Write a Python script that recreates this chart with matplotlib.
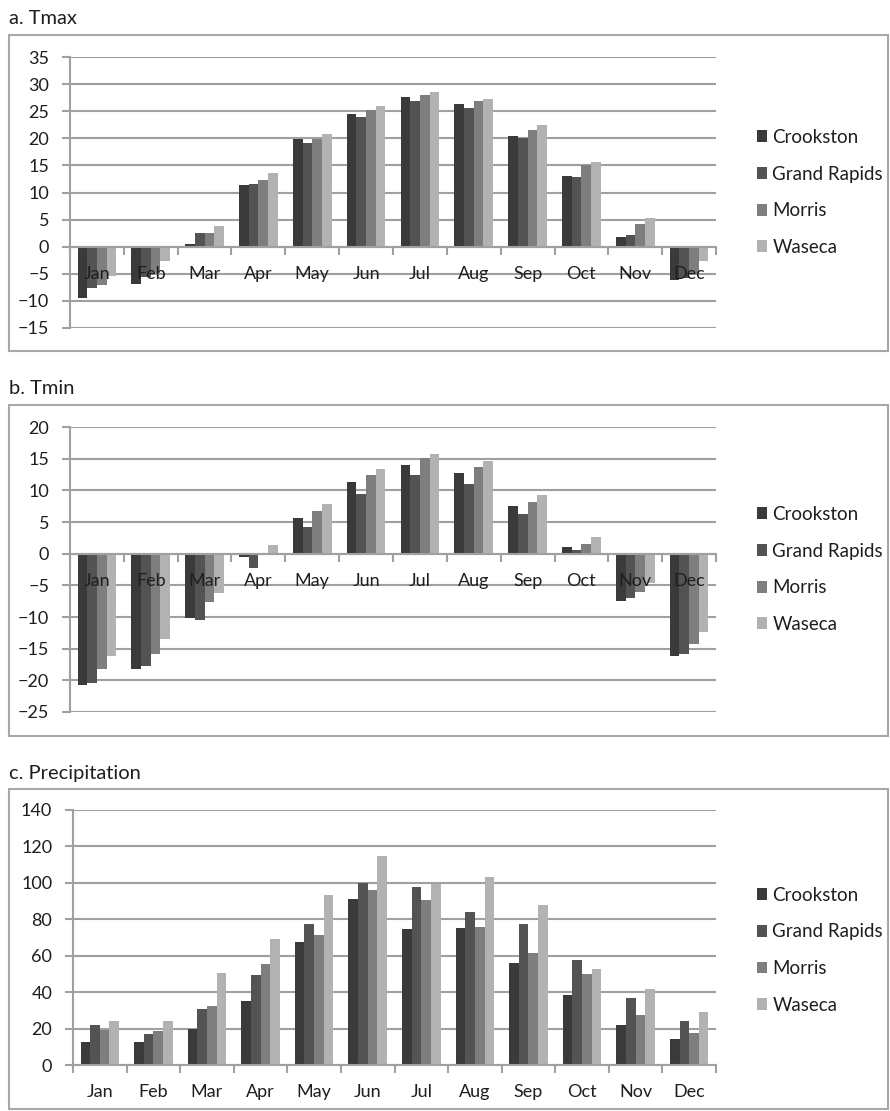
import matplotlib.pyplot as plt
from matplotlib.patches import Rectangle, Patch
import numpy as np

# data
bulan = ['Jan', 'Feb', 'Mar', 'Apr', 'May', 'Jun', 'Jul', 'Aug', 'Sep', 'Oct', 'Nov', 'Dec']
stasiun = ['Crookston', 'Grand Rapids', 'Morris', 'Waseca']
warna = ['#3a3a3a', '#535353', '#7e7e7e', '#b2b2b2']

tmax_crookston = [-9.5, -6.9, 0.5, 11.3, 19.9, 24.4, 27.7, 26.4, 20.5, 13.1, 1.8, -6.1]
tmax_grandrapids = [-7.7, -5.6, 2.6, 11.6, 19.2, 24.0, 26.9, 25.5, 20.0, 12.8, 2.2, -5.8]
tmax_morris = [-7.1, -4.8, 2.6, 12.3, 19.9, 25.2, 27.9, 26.9, 21.5, 15.1, 4.1, -5.0]
tmax_waseca = [-5.4, -2.6, 3.8, 13.6, 20.8, 25.9, 28.5, 27.2, 22.5, 15.7, 5.3, -2.6]

tmin_crookston = [-20.7, -18.2, -10.1, -0.6, 5.7, 11.3, 14.0, 12.8, 7.5, 1.1, -7.4, -16.1]
tmin_grandrapids = [-20.4, -17.8, -10.5, -2.2, 4.2, 9.5, 12.5, 11.0, 6.3, 0.6, -7.0, -15.9]
tmin_morris = [-18.2, -15.9, -7.7, 0.15, 6.8, 12.5, 15.1, 13.7, 8.1, 1.6, -6.0, -14.2]
tmin_waseca = [-16.1, -13.5, -6.2, 1.3, 7.8, 13.4, 15.8, 14.6, 9.3, 2.7, -4.6, -12.4]

prec_crookston = [12.9, 12.9, 19.8, 35.1, 67.6, 91.3, 74.4, 75.0, 56.0, 38.4, 21.9, 14.3]
prec_grandrapids = [21.7, 17.1, 30.7, 49.6, 77.5, 99.8, 97.7, 84.0, 77.2, 57.5, 36.7, 23.9]
prec_morris = [19.3, 18.9, 32.3, 55.7, 71.3, 96.1, 90.6, 75.7, 61.7, 50.0, 27.6, 17.5]
prec_waseca = [24.4, 24.4, 50.7, 69.1, 93.3, 115.0, 99.4, 103.4, 87.8, 52.7, 41.7, 29.0]

plt.rcParams['font.family'] = ['Lato', 'DejaVu Sans']

W, H = 890, 1111
fig = plt.figure(figsize=(W / 100, H / 100), dpi=100)
teks = '#1e1e1e'


def fx(px):
    return px / W


def fy(py):
    return 1 - py / H


def gambar_panel(judul, seri, ymin, ymax, step, atas, bawah, kiri, kotak, y_legend):
    # kotak luar chart
    fig.add_artist(Rectangle((fx(9), fy(kotak[1])), fx(888 - 9), (kotak[1] - kotak[0]) / H,
                             transform=fig.transFigure, fill=False, ec='#a8a8a8', lw=1.5))
    fig.text(fx(9), fy(kotak[0] - 16), judul, fontsize=14.5, ha='left', va='center', color=teks)

    ax = fig.add_axes([fx(kiri), fy(bawah), fx(716 - kiri), (bawah - atas) / H])
    x = np.arange(len(bulan))
    lebar = 0.18
    for i, nilai in enumerate(seri):
        ax.bar(x + (i - 1.5) * lebar, nilai, width=lebar, color=warna[i], zorder=1)

    ax.set_xlim(-0.5, 11.5)
    ax.set_ylim(ymin, ymax)
    yt = np.arange(ymin, ymax + 1, step)
    ax.set_yticks(yt)
    for v in yt:
        ax.axhline(v, color='#a0a0a0', lw=1.5, zorder=0.5)

    for s in ['top', 'right']:
        ax.spines[s].set_visible(False)
    ax.spines['left'].set_color('#a0a0a0')
    ax.spines['left'].set_linewidth(1.5)
    ax.spines['bottom'].set_position(('data', 0))
    ax.spines['bottom'].set_color('#a0a0a0')
    ax.spines['bottom'].set_linewidth(1.5)

    ax.set_xticks(np.arange(-0.5, 12, 1))
    ax.set_xticklabels([])
    ax.set_xticks(x, minor=True)
    ax.set_xticklabels(bulan, minor=True)
    ax.tick_params(axis='x', which='major', length=6, width=1.5, color='#a0a0a0')
    ax.tick_params(axis='x', which='minor', length=0, pad=14, labelsize=13, labelcolor=teks)
    ax.tick_params(axis='y', length=6, width=1.5, color='#a0a0a0', labelsize=13,
                   labelcolor=teks, pad=9)

    handles = [Patch(facecolor=warna[i], edgecolor='none') for i in range(4)]
    ax.legend(handles, stasiun, loc='center left', bbox_to_anchor=(fx(749 - kiri) / fx(716 - kiri), y_legend),
              frameon=False, fontsize=13.5, handlelength=0.55, handleheight=0.6, handletextpad=0.3,
              labelspacing=1.05, borderaxespad=0, labelcolor=teks)
    return ax


gambar_panel('a. Tmax', [tmax_crookston, tmax_grandrapids, tmax_morris, tmax_waseca],
             -15, 35, 5, 57, 328, 70, (35, 351), 0.5)
gambar_panel('b. Tmin', [tmin_crookston, tmin_grandrapids, tmin_morris, tmin_waseca],
             -25, 20, 5, 427, 712, 70, (405, 736), 0.5)
gambar_panel('c. Precipitation', [prec_crookston, prec_grandrapids, prec_morris, prec_waseca],
             0, 140, 20, 810, 1065, 73, (789, 1109), 0.45)

plt.savefig('out.png', dpi=100)
